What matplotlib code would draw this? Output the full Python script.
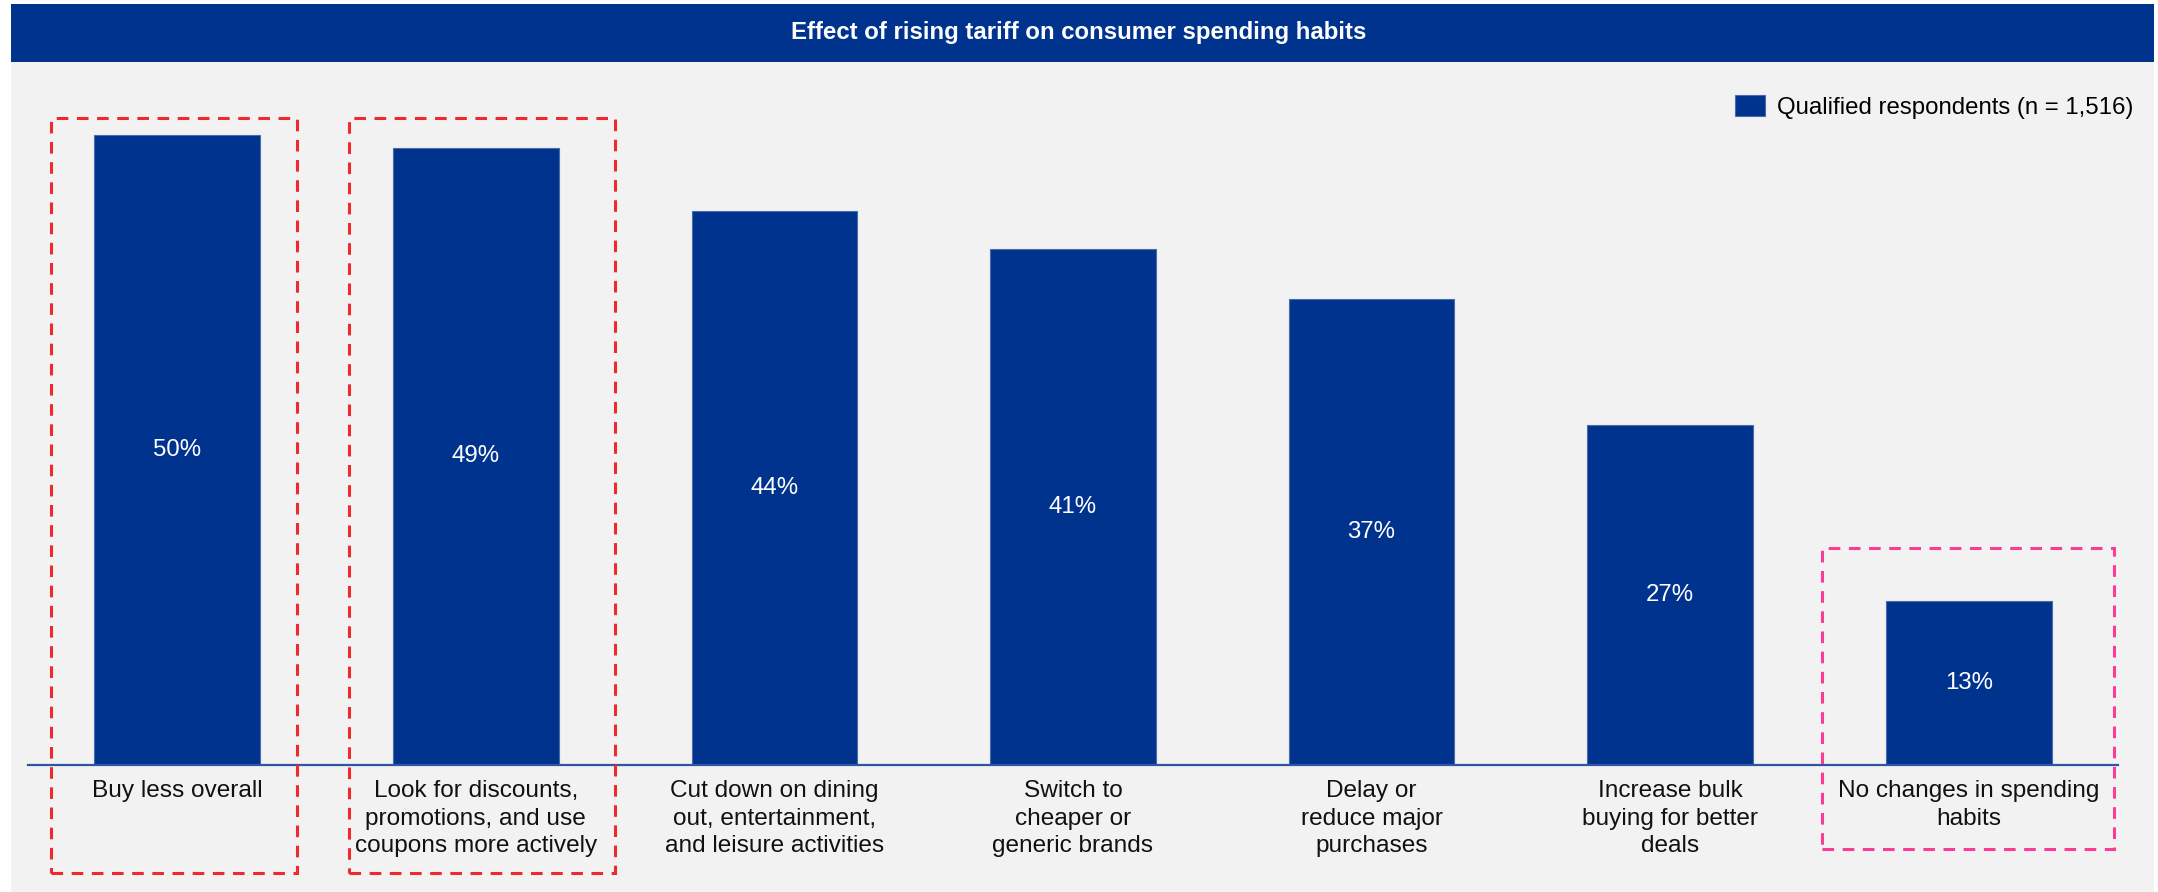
import matplotlib
matplotlib.use('Agg')
import matplotlib.pyplot as plt
from matplotlib.patches import Rectangle

plt.rcParams['font.family'] = ['Liberation Sans', 'DejaVu Sans']

# survey results
categories = [
    'Buy less overall',
    'Look for discounts,\npromotions, and use\ncoupons more actively',
    'Cut down on dining\nout, entertainment,\nand leisure activities',
    'Switch to\ncheaper or\ngeneric brands',
    'Delay or\nreduce major\npurchases',
    'Increase bulk\nbuying for better\ndeals',
    'No changes in spending\nhabits',
]
share_pct = [50, 49, 44, 41, 37, 27, 13]
series_name = 'Qualified respondents (n = 1,516)'
chart_title = 'Effect of rising tariff on consumer spending habits'

NAVY = '#00338d'
W, H = 2158, 892
fig = plt.figure(figsize=(W / 100, H / 100), dpi=100, facecolor='white')

# panel background and title band (figure pixel coords -> fractions)
fig.patches.append(Rectangle((11 / W, 0), (2154 - 11) / W, (H - 62) / H,
                             transform=fig.transFigure, facecolor='#f2f2f2',
                             edgecolor='none', zorder=-10))
fig.patches.append(Rectangle((11 / W, (H - 62) / H), (2154 - 11) / W, 58 / H,
                             transform=fig.transFigure, facecolor=NAVY,
                             edgecolor='none', zorder=-10))
fig.text(0.5, 1 - 33 / H, chart_title, color='white', fontsize=17.3,
         fontweight='bold', ha='center', va='center')

ax = fig.add_axes([28 / W, 127 / H, 2090 / W, 655 / H])
ax.set_facecolor('none')

x = list(range(len(categories)))
bars = ax.bar(x, share_pct, width=0.555, color=NAVY, edgecolor='#4a6aae',
              linewidth=0.8, label=series_name, zorder=2)
for xi, v in zip(x, share_pct):
    ax.text(xi, v / 2, f'{v}%', color='white', fontsize=17.3,
            ha='center', va='center', zorder=3)

ax.set_xlim(-0.5, len(categories) - 0.5)
ax.set_ylim(0, 52)
ax.set_xticks(x)
ax.set_xticklabels(categories, fontsize=17.6, color='#111111', linespacing=1.32)
ax.tick_params(axis='x', length=0, pad=11)
ax.set_yticks([])
for s in ['top', 'right', 'left']:
    ax.spines[s].set_visible(False)
ax.spines['bottom'].set_color('#2f55a4')
ax.spines['bottom'].set_linewidth(1.6)

# dashed highlight boxes: (bar index, left, right, bottom, top)
highlights = [
    (0, -0.422, 0.402, -8.6, 51.4, '#ee2a2f'),
    (1, -0.426, 0.466, -8.6, 51.4, '#ee2a2f'),
    (6, -0.492, 0.487, -6.7, 17.2, '#fb3c95'),
]
for idx, l, r, b, t, c in highlights:
    ax.add_patch(Rectangle((idx + l, b), r - l, t - b, fill=False,
                           edgecolor=c, linewidth=2.2,
                           linestyle=(0, (3.8, 2.8)), clip_on=False,
                           zorder=4))

fig.legend(handles=[bars], labels=[series_name], loc='center right',
           bbox_to_anchor=(2133 / W, 1 - 107 / H), frameon=False,
           fontsize=17.3, handlelength=1.25, handleheight=0.95,
           handletextpad=0.5, borderpad=0, borderaxespad=0)

fig.savefig('out.png', dpi=100, facecolor=fig.get_facecolor())
